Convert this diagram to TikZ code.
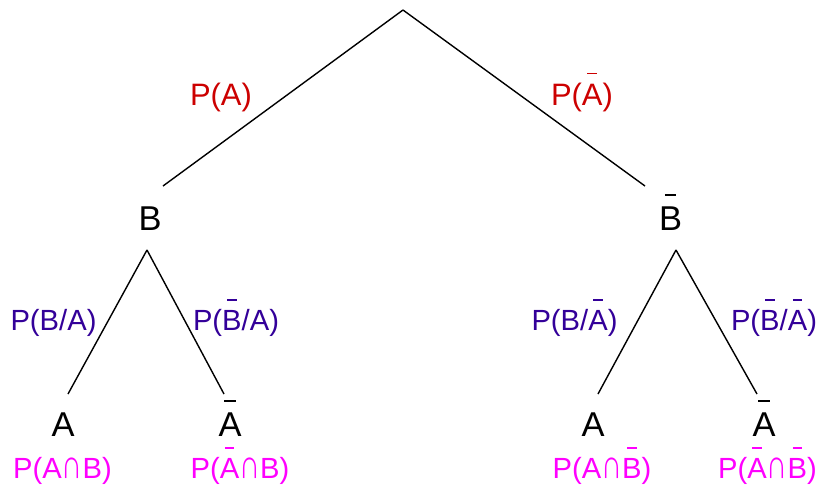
\documentclass[tikz,border=0pt]{standalone}
\usepackage{fontspec}
\setmainfont{Liberation Sans}
\usepackage{graphicx}
\usepackage{tikz}

\definecolor{probred}{RGB}{204,0,0}
\definecolor{condblue}{RGB}{51,0,153}
\definecolor{jointpink}{RGB}{255,0,255}

% short bar over a letter (complement)
\newcommand{\nbar}[1]{{\setbox0\hbox{#1}\rlap{\hbox to\wd0{\hfil\rule[\dimexpr\ht0+0.3em\relax]{0.48\wd0}{0.5pt}\hfil}}\box0}}
% taller intersection sign
\newcommand{\capsign}{\scalebox{1}[1.4]{∩}}

\tikzset{
  event/.style={anchor=base, inner sep=0pt, font=\fontsize{9.8}{12}\selectfont},
  lbl/.style={anchor=base, inner sep=0pt, font=\fontsize{8.3}{10}\selectfont},
  first/.style={lbl, text=probred, font=\fontsize{8.8}{11}\selectfont},
  cond/.style={lbl, text=condblue},
  joint/.style={lbl, text=jointpink},
}

\begin{document}
\begin{tikzpicture}[x=0.01cm, y=-0.01cm, line width=0.4pt]
  \useasboundingbox (0,0) rectangle (820,484);

  \coordinate (root) at (403,10);

  % second level
  \node[event] (B)    at (150,230) {B};
  \node[event] (Bn)   at (670.5,230) {\nbar{B}};

  % leaves
  \node[event] (BA)   at (63,436)  {A};
  \node[event] (BAn)  at (230,436) {\nbar{A}};
  \node[event] (BnA)  at (593,436) {A};
  \node[event] (BnAn) at (764,436) {\nbar{A}};

  \path[-]
    (root) edge ([shift={(13,-44)}]B.base)
    (root) edge ([shift={(-25.5,-44)}]Bn.base)
    ([shift={(-3,20)}]B.base) edge ([shift={(5,-42)}]BA.base)
    ([shift={(-3,20)}]B.base) edge ([shift={(-6,-42)}]BAn.base)
    ([shift={(5.5,20)}]Bn.base) edge ([shift={(5,-42)}]BnA.base)
    ([shift={(5.5,20)}]Bn.base) edge ([shift={(-7,-42)}]BnAn.base);

  % branch probabilities
  \node[first] (pA)  at (221,105) {P(A)};
  \node[first] (pAn) at (582,105) {P(\nbar{A})};

  \node[cond] (pBA)   at (53.5,330) {P(B/A)};
  \node[cond] (pBnA)  at (236,330)  {P(\nbar{B}/A)};
  \node[cond] (pBAn)  at (574.5,330) {P(B/\nbar{A})};
  \node[cond] (pBnAn) at (774,330)  {P(\nbar{B}/\nbar{A})};

  % joint probabilities under the leaves
  \node[joint] (jAB)   at (62.5,478) {P(A\capsign B)};
  \node[joint] (jAnB)  at (240,478)  {P(\nbar{A}\capsign B)};
  \node[joint] (jABn)  at (602,478)  {P(A\capsign\nbar{B})};
  \node[joint] (jAnBn) at (767.5,478) {P(\nbar{A}\capsign\nbar{B})};
\end{tikzpicture}
\end{document}
